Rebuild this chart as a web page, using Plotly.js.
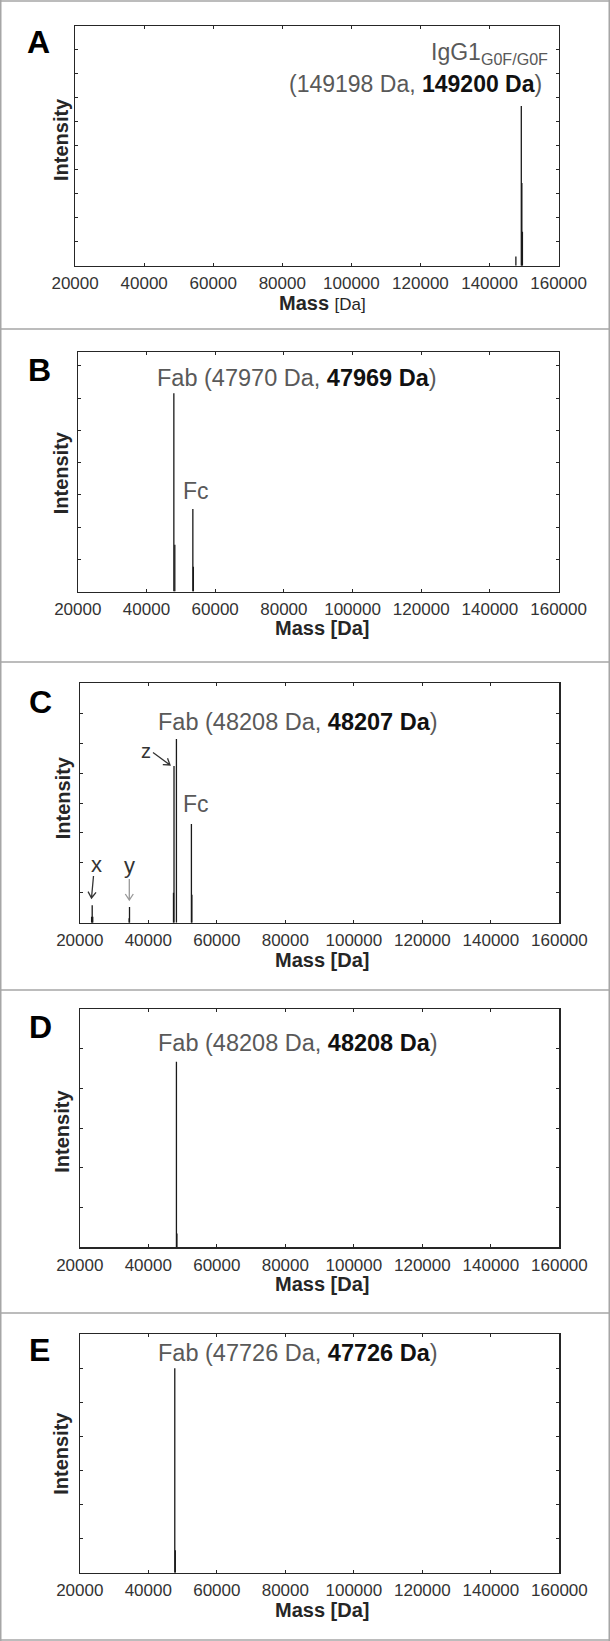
<!DOCTYPE html>
<html><head><meta charset="utf-8">
<script src="https://cdn.plot.ly/plotly-3.0.1.min.js"></script>
<style>html,body{margin:0;padding:0;background:#fff}</style>
</head><body><div id="chart" style="width:610px;height:1641px"></div>
<script>
// ---------- data ----------
const massTickVals = [20000, 40000, 60000, 80000, 100000, 120000, 140000, 160000];
const massTickText = ["20000", "40000", "60000", "80000", "100000", "120000", "140000", "160000"];

const massA = [147630, 149200, 149362, 149524];
const intA  = [0.38, 6.66, 3.45, 1.42];

const massB = [47969, 48250, 53500, 53650];
const intB  = [6.15, 1.45, 2.56, 0.77];

const massC = [23450, 23620, 23780, 34400, 34510, 47350, 47500, 48207, 52580, 52720];
const intC  = [0.20, 0.58, 0.20, 0.15, 0.525, 1.00, 5.24, 6.14, 3.30, 0.93];

const massD = [48208, 48350];
const intD  = [4.68, 0.35];

const massE = [47726, 47880];
const intE  = [6.00, 0.66];

const labelA1 = "IgG1<sub>G0F/G0F</sub>";
const labelA2 = ["(149198 Da, ", "149200 Da", ")"];
const labelB  = ["Fab (47970 Da, ", "47969 Da", ")"];
const labelC  = ["Fab (48208 Da, ", "48207 Da", ")"];
const labelD  = ["Fab (48208 Da, ", "48208 Da", ")"];
const labelE  = ["Fab (47726 Da, ", "47726 Da", ")"];

// ---------- layout helpers ----------
const W = 610, H = 1641;
const px = v => v / W;
const py = v => 1 - v / H;
const FONT = "Liberation Sans, Arial, sans-serif";

const panels = [
  {l: 75.1, r: 558.6, t: 26.0,   b: 265.7,  ymax: 10,   letter: "A", lx: 38.5, ly: 41.5,  mass: massA, inten: intA, iy: 140,    ix: 61},
  {l: 77.8, r: 558.6, t: 352.3,  b: 591.5,  ymax: 7.42, letter: "B", lx: 39.5, ly: 370,   mass: massB, inten: intB, iy: 473.3,  ix: 61},
  {l: 79.8, r: 559.4, t: 683.3,  b: 922.7,  ymax: 8,    letter: "C", lx: 40,   ly: 701.7, mass: massC, inten: intC, iy: 798.3,  ix: 63},
  {l: 79.8, r: 559.4, t: 1009.3, b: 1247.3, ymax: 6,    letter: "D", lx: 40.8, ly: 1026.7,mass: massD, inten: intD, iy: 1131.7, ix: 62},
  {l: 79.8, r: 559.4, t: 1334.3, b: 1572.7, ymax: 7,    letter: "E", lx: 39,   ly: 1350,  mass: massE, inten: intE, iy: 1453.3, ix: 61.5}
];

function sticks(m, h) {
  const x = [], y = [];
  for (let i = 0; i < m.length; i++) { x.push(m[i], m[i], null); y.push(0, h[i], null); }
  return {x, y};
}

const traces = [];
const layout = {
  width: W, height: H,
  margin: {l: 0, r: 0, t: 0, b: 0},
  paper_bgcolor: "#ffffff", plot_bgcolor: "#ffffff",
  showlegend: false,
  font: {family: FONT, color: "#333333"},
  annotations: [],
  shapes: []
};

const GRAY = "#595959", DARK = "#111111";
function richLabel(parts) {
  return parts[0] + '<b><span style="color:' + DARK + '">' + parts[1] + '</span></b>' + parts[2];
}

panels.forEach((p, i) => {
  const n = i + 1;
  const xk = "xaxis" + (n === 1 ? "" : n), yk = "yaxis" + (n === 1 ? "" : n);
  const xr = "x" + (n === 1 ? "" : n), yr = "y" + (n === 1 ? "" : n);
  const s = sticks(p.mass, p.inten);
  traces.push({x: s.x, y: s.y, xaxis: xr, yaxis: yr, type: "scatter", mode: "lines",
    line: {color: "#1a1a1a", width: 1.3}, hoverinfo: "skip", connectgaps: false});
  layout[xk] = {
    domain: [px(p.l), px(p.r)], range: [20000, 160000], anchor: yr,
    tickvals: massTickVals, ticktext: massTickText,
    ticks: "inside", ticklen: 3, tickwidth: 1, tickcolor: "#262626",
    showline: true, linecolor: "#262626", linewidth: 1.3, mirror: "ticks",
    showgrid: false, zeroline: false,
    tickfont: {family: FONT, size: 17, color: "#333333"},
    ticklabelstandoff: 2, fixedrange: true
  };
  layout[yk] = {
    domain: [py(p.b), py(p.t)], range: [0, p.ymax], anchor: xr,
    tick0: 0, dtick: 1, ticks: "inside", ticklen: 3, tickwidth: 1, tickcolor: "#262626",
    showticklabels: false,
    showline: true, linecolor: "#262626", linewidth: 1.3, mirror: "ticks",
    showgrid: false, zeroline: false, fixedrange: true
  };
  layout.annotations.push({xref: "paper", yref: "paper", x: px(p.lx), y: py(p.ly),
    xanchor: "center", yanchor: "middle", showarrow: false, text: "<b>" + p.letter + "</b>",
    font: {family: FONT, size: 32, color: "#000"}});
  layout.annotations.push({xref: "paper", yref: "paper", x: px(p.ix), y: py(p.iy),
    xanchor: "center", yanchor: "middle", showarrow: false, textangle: -90,
    text: "<b>Intensity</b>",
    font: {family: FONT, size: 20, color: "#262626"}});
  layout.annotations.push({xref: "paper", yref: "paper", x: px(322), y: py(p.b + 37),
    xanchor: "center", yanchor: "middle", showarrow: false,
    text: n === 1 ? '<b>Mass</b> <span style="font-size:17px">[Da]</span>' : "<b>Mass [Da]</b>",
    font: {family: FONT, size: 20, color: "#262626"}});
});

const lab = (x, y, text, anchor, size, color) => ({xref: "paper", yref: "paper", x: px(x), y: py(y),
  xanchor: anchor, yanchor: "middle", showarrow: false, text: text,
  font: {family: FONT, size: size || 23, color: color || GRAY}});

layout.annotations.push(lab(550, 53, labelA1, "right", 23));
layout.annotations.push(lab(544, 84, richLabel(labelA2), "right", 23));
layout.annotations.push(lab(154.5, 377.5, richLabel(labelB), "left", 23.5));
layout.annotations.push(lab(195.5, 491, "Fc", "center", 23));
layout.annotations.push(lab(155.5, 722, richLabel(labelC), "left", 23.5));
layout.annotations.push(lab(195.5, 804, "Fc", "center", 23));
layout.annotations.push(lab(155.5, 1043, richLabel(labelD), "left", 23.5));
layout.annotations.push(lab(155.5, 1352.5, richLabel(labelE), "left", 23.5));
layout.annotations.push(lab(96, 864, "x", "center", 22, "#333"));
layout.annotations.push(lab(129.5, 865, "y", "center", 22, "#333"));
layout.annotations.push(lab(145.5, 751, "z", "center", 20, "#333"));

// arrows drawn as shapes (pixel coordinates converted to paper)
function arrowShape(x0, y0, x1, y1, color) {
  const dx = x1 - x0, dy = y1 - y0, L = Math.hypot(dx, dy);
  const ux = dx / L, uy = dy / L, hl = 6, hw = 4;
  const bx = x1 - ux * hl, by = y1 - uy * hl;
  const p1x = bx - uy * hw, p1y = by + ux * hw;
  const p2x = bx + uy * hw, p2y = by - ux * hw;
  const P = (x, y) => px(x).toFixed(5) + "," + py(y).toFixed(5);
  return {type: "path", xref: "paper", yref: "paper",
    path: "M" + P(x0, y0) + " L" + P(x1, y1) + " M" + P(p1x, p1y) + " L" + P(x1, y1) + " L" + P(p2x, p2y),
    line: {color: color, width: 1.3}};
}
layout.shapes.push(arrowShape(93.5, 876, 91.5, 898, "#333"));
layout.shapes.push(arrowShape(129.3, 879, 129.3, 900, "#999"));
layout.shapes.push(arrowShape(153, 752.5, 170, 765, "#333"));

// panel frames
const frameY = [1, 329, 662, 990, 1313, 1640];
frameY.forEach(y => layout.shapes.push({type: "line", xref: "paper", yref: "paper",
  x0: 0, x1: 1, y0: py(y), y1: py(y), line: {color: "#a6a6a6", width: 1.5}}));
[0.75, 609.25].forEach(x => layout.shapes.push({type: "line", xref: "paper", yref: "paper",
  x0: px(x), x1: px(x), y0: 0, y1: 1, line: {color: "#a6a6a6", width: 1.5}}));

Plotly.newPlot("chart", traces, layout, {staticPlot: true, displayModeBar: false});
</script>
</body></html>
